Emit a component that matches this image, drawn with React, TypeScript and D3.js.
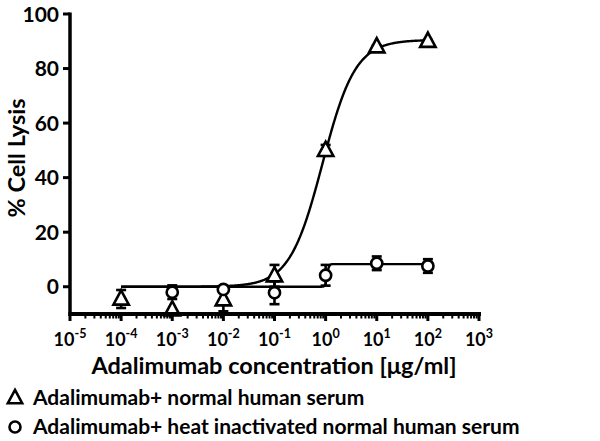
import React from "react";
import * as d3 from "d3";

const concentrations = [1e-4, 1e-3, 1e-2, 1e-1, 1e0, 1e1, 1e2];
const nhsMean = [-4.5, -8.5, -4.8, 4, 50, 88, 90];
const nhsErr = [3.3, 0, 4.2, 4, 2, 0.5, 0.5];
const hiConc = [1e-3, 1e-2, 1e-1, 1e0, 1e1, 1e2];
const hiMean = [-2, -1, -2.2, 4.2, 8.6, 7.6];
const hiErr = [2.5, 0.5, 4.2, 3.8, 2.5, 2.5];
// 4PL fit parameters: [bottom, top, logEC50, hill]
const nhsFit = [0, 90.5, -0.06, 1.35];
const hiFit = [0, 8.3, 0.03, 25];
const xTickExps = [-5, -4, -3, -2, -1, 0, 1, 2, 3];
const yTicks = [0, 20, 40, 60, 80, 100];
const legendLabels = [
  "Adalimumab+ normal human serum",
  "Adalimumab+ heat inactivated normal human serum",
];

const FONT = "Lato, 'Open Sans', sans-serif";

export default function App() {
  const W = 600, H = 441;
  const x = d3.scaleLog().domain([1e-5, 1e3]).range([70, 479]);
  const y = d3.scaleLinear().domain([-10, 100]).range([314, 14]);

  const fit = (p: number[]) => {
    const pts: [number, number][] = [];
    for (let i = 0; i <= 600; i++) {
      const lx = -4 + (6 * i) / 600;
      const v = p[0] + (p[1] - p[0]) / (1 + Math.pow(10, (p[2] - lx) * p[3]));
      pts.push([x(Math.pow(10, lx)), y(v)]);
    }
    return d3.line()(pts) || "";
  };

  const minor: number[] = [];
  for (let e = -5; e < 3; e++) for (let k = 2; k <= 9; k++) minor.push(k * Math.pow(10, e));

  const sw = 2.6;
  const tri = (cx: number, cy: number, s: number) =>
    `M${cx},${cy - s * 0.62}L${cx + s * 0.55},${cy + s * 0.4}L${cx - s * 0.55},${cy + s * 0.4}Z`;

  const errBar = (cx: number, m: number, e: number, key: string) =>
    e > 0 ? (
      <g key={key} stroke="#000" strokeWidth={sw}>
        <line x1={cx} x2={cx} y1={y(m + e)} y2={y(m - e)} />
        <line x1={cx - 5} x2={cx + 5} y1={y(m + e)} y2={y(m + e)} />
        <line x1={cx - 5} x2={cx + 5} y1={y(m - e)} y2={y(m - e)} />
      </g>
    ) : null;

  return (
    <svg width={W} height={H} style={{ position: "absolute", left: 0, top: 0, background: "#fff" }}>
      <rect width={W} height={H} fill="#fff" />
      {/* curves */}
      <path d={fit(nhsFit)} fill="none" stroke="#000" strokeWidth={2.4} />
      <path d={fit(hiFit)} fill="none" stroke="#000" strokeWidth={2.4} />
      {/* error bars */}
      {concentrations.map((c, i) => errBar(x(c), nhsMean[i], nhsErr[i], "te" + i))}
      {hiConc.map((c, i) => errBar(x(c), hiMean[i], hiErr[i], "ce" + i))}
      {/* markers */}
      {concentrations.map((c, i) => (
        <path key={"t" + i} d={tri(x(c), y(nhsMean[i]), 14)} fill="#fff" stroke="#000" strokeWidth={sw} strokeLinejoin="miter" />
      ))}
      {hiConc.map((c, i) => (
        <circle key={"c" + i} cx={x(c)} cy={y(hiMean[i])} r={5.6} fill="#fff" stroke="#000" strokeWidth={sw} />
      ))}
      {/* y axis */}
      <line x1={70} x2={70} y1={12.5} y2={316} stroke="#000" strokeWidth={3.5} />
      {yTicks.map((t) => (
        <g key={"yt" + t}>
          <line x1={63} x2={70} y1={y(t)} y2={y(t)} stroke="#000" strokeWidth={3} />
          <text x={59} y={y(t)} dy="0.36em" textAnchor="end" fontFamily={FONT} fontWeight="bold" fontSize={21}>{t}</text>
        </g>
      ))}
      {/* x axis */}
      <line x1={68.5} x2={481} y1={314} y2={314} stroke="#000" strokeWidth={4} />
      {minor.map((m, i) => (
        <line key={"mn" + i} x1={x(m)} x2={x(m)} y1={314} y2={318.5} stroke="#000" strokeWidth={2} />
      ))}
      {xTickExps.map((e) => (
        <g key={"xt" + e}>
          <line x1={x(Math.pow(10, e))} x2={x(Math.pow(10, e))} y1={314} y2={321} stroke="#000" strokeWidth={3} />
          <text x={x(Math.pow(10, e))} y={346} textAnchor="middle" fontFamily={FONT} fontWeight="bold" fontSize={18}>
            10<tspan dy={-8} fontSize={12.5}>{e < 0 ? "-" + -e : String(e)}</tspan>
          </text>
        </g>
      ))}
      {/* axis titles */}
      <text x={274} y={374} textAnchor="middle" fontFamily={FONT} fontWeight="bold" fontSize={23.5}>
        Adalimumab concentration [μg/ml]
      </text>
      <text transform="translate(25,158) rotate(-90)" textAnchor="middle" fontFamily={FONT} fontWeight="bold" fontSize={23.5}>
        % Cell Lysis
      </text>
      {/* legend */}
      <path d={tri(15, 398, 13)} fill="#fff" stroke="#000" strokeWidth={2.6} />
      <circle cx={15} cy={427} r={5.5} fill="#fff" stroke="#000" strokeWidth={2.6} />
      <text x={33} y={405} fontFamily={FONT} fontWeight="bold" fontSize={21}>{legendLabels[0]}</text>
      <text x={33} y={434} fontFamily={FONT} fontWeight="bold" fontSize={21}>{legendLabels[1]}</text>
    </svg>
  );
}
